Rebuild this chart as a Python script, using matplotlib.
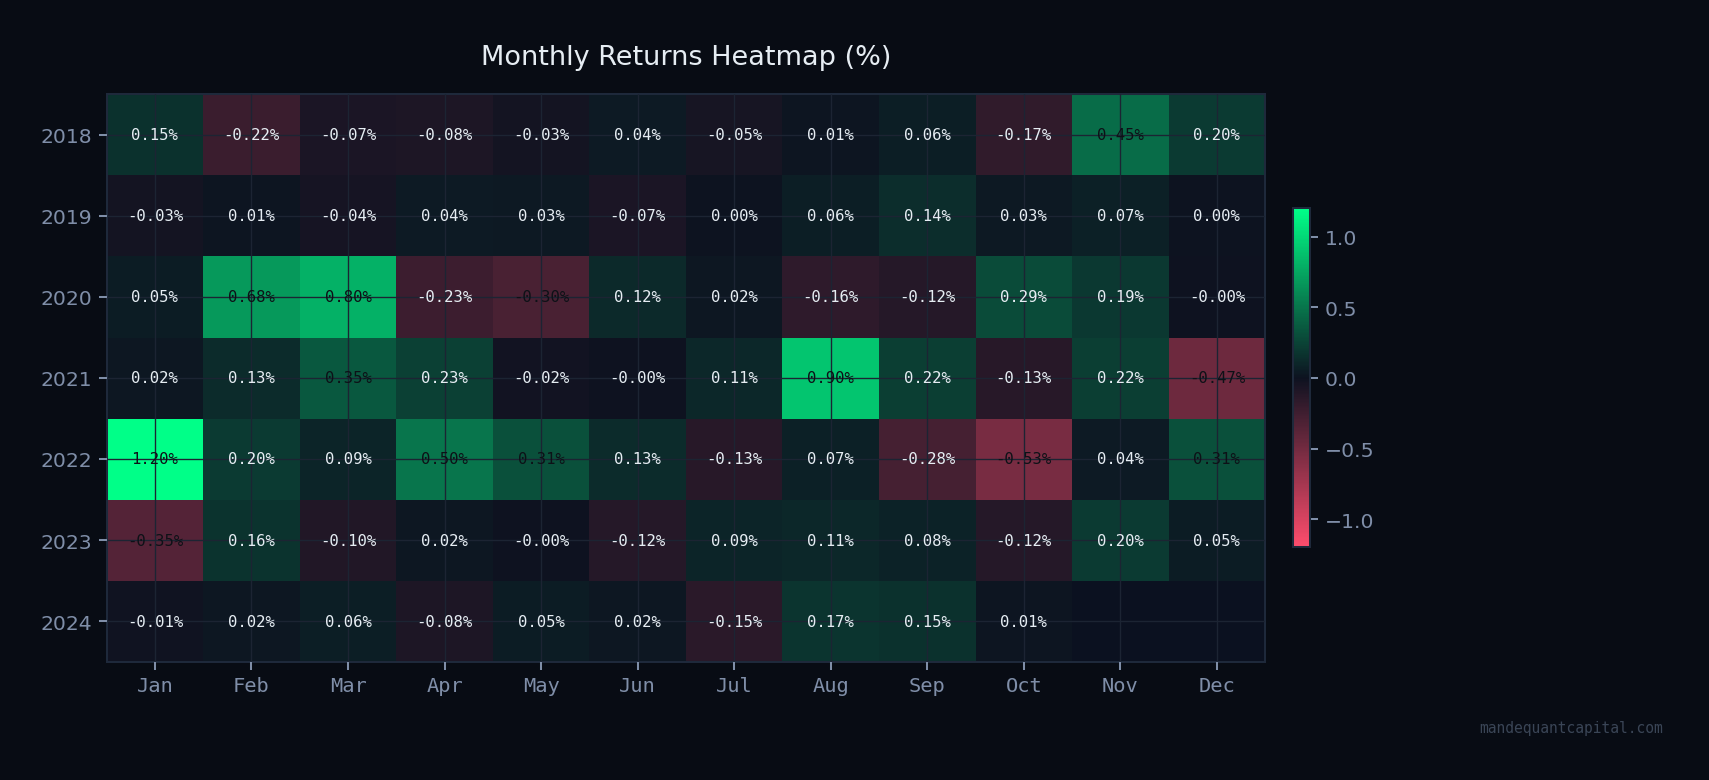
import numpy as np
import matplotlib
matplotlib.use("Agg")
import matplotlib.pyplot as plt
from matplotlib.colors import LinearSegmentedColormap

# Monthly returns (%), NaN = no data yet
years = ["2018", "2019", "2020", "2021", "2022", "2023", "2024"]
months = ["Jan", "Feb", "Mar", "Apr", "May", "Jun", "Jul", "Aug", "Sep", "Oct", "Nov", "Dec"]
r2018 = [0.15, -0.22, -0.07, -0.08, -0.03, 0.04, -0.05, 0.01, 0.06, -0.17, 0.45, 0.20]
r2019 = [-0.03, 0.01, -0.04, 0.04, 0.03, -0.07, 0.00, 0.06, 0.14, 0.03, 0.07, 0.00]
r2020 = [0.05, 0.68, 0.80, -0.23, -0.30, 0.12, 0.02, -0.16, -0.12, 0.29, 0.19, -0.001]
r2021 = [0.02, 0.13, 0.35, 0.23, -0.02, -0.001, 0.11, 0.90, 0.22, -0.13, 0.22, -0.47]
r2022 = [1.20, 0.20, 0.09, 0.50, 0.31, 0.13, -0.13, 0.07, -0.28, -0.53, 0.04, 0.31]
r2023 = [-0.35, 0.16, -0.10, 0.02, -0.001, -0.12, 0.09, 0.11, 0.08, -0.12, 0.20, 0.05]
r2024 = [-0.01, 0.02, 0.06, -0.08, 0.05, 0.02, -0.15, 0.17, 0.15, 0.01, np.nan, np.nan]
watermark = "mandequantcapital.com"

BG = "#080c14"
AX_BG = "#0b1120"
TICK = "#7f8ea8"
GRID = "#1c2433"
SPINE = "#1e293b"

returns = np.array([r2018, r2019, r2020, r2021, r2022, r2023, r2024])
data = np.ma.masked_invalid(returns)
vmax = np.nanmax(np.abs(returns))

cmap = LinearSegmentedColormap.from_list("rg", ["#ff4d6d", "#0d1220", "#00ff88"])

fig = plt.figure(figsize=(14.01, 6.40), dpi=122, facecolor=BG)
ax = fig.add_axes([0.0624, 0.1513, 0.6778, 0.7269])
ax.set_facecolor(AX_BG)

mesh = ax.pcolormesh(np.arange(len(months) + 1), np.arange(len(years) + 1), data,
                     cmap=cmap, vmin=-vmax, vmax=vmax)
ax.set_xlim(0, len(months))
ax.set_ylim(len(years), 0)

# annotations, dark text on the brighter cells
for i in range(len(years)):
    for j in range(len(months)):
        v = returns[i, j]
        if np.isnan(v):
            continue
        color = "#0d1117" if abs(v) >= 0.3 else "#e6edf3"
        ax.text(j + 0.5, i + 0.5, f"{v:.2f}%", ha="center", va="center",
                fontsize=9.2, family="DejaVu Sans Mono", color=color)

ax.set_xticks(np.arange(len(months)) + 0.5)
ax.set_xticklabels(months, family="DejaVu Sans Mono")
ax.set_yticks(np.arange(len(years)) + 0.5)
ax.set_yticklabels(years)
ax.tick_params(colors=TICK, labelsize=12, length=5, width=1.2)

ax.set_axisbelow(False)
ax.grid(True, color=GRID, linewidth=0.8)
for s in ax.spines.values():
    s.set_color(SPINE)
    s.set_linewidth(1.2)

ax.set_title("Monthly Returns Heatmap (%)", color="#e6edf3", fontsize=16, pad=18)

# colorbar
cax = fig.add_axes([0.7564, 0.2978, 0.0102, 0.4342])
cb = fig.colorbar(mesh, cax=cax)
cb.set_ticks([-1.0, -0.5, 0.0, 0.5, 1.0])
cb.ax.tick_params(colors=TICK, labelsize=12, length=5, width=1.2)
cb.outline.set_edgecolor(SPINE)
cb.outline.set_linewidth(1.2)

fig.text(0.973, 0.067, watermark, ha="right", va="center", fontsize=8.6,
         family="DejaVu Sans Mono", color="#3a4556")

fig.savefig("out.png", dpi=122, facecolor=BG)
